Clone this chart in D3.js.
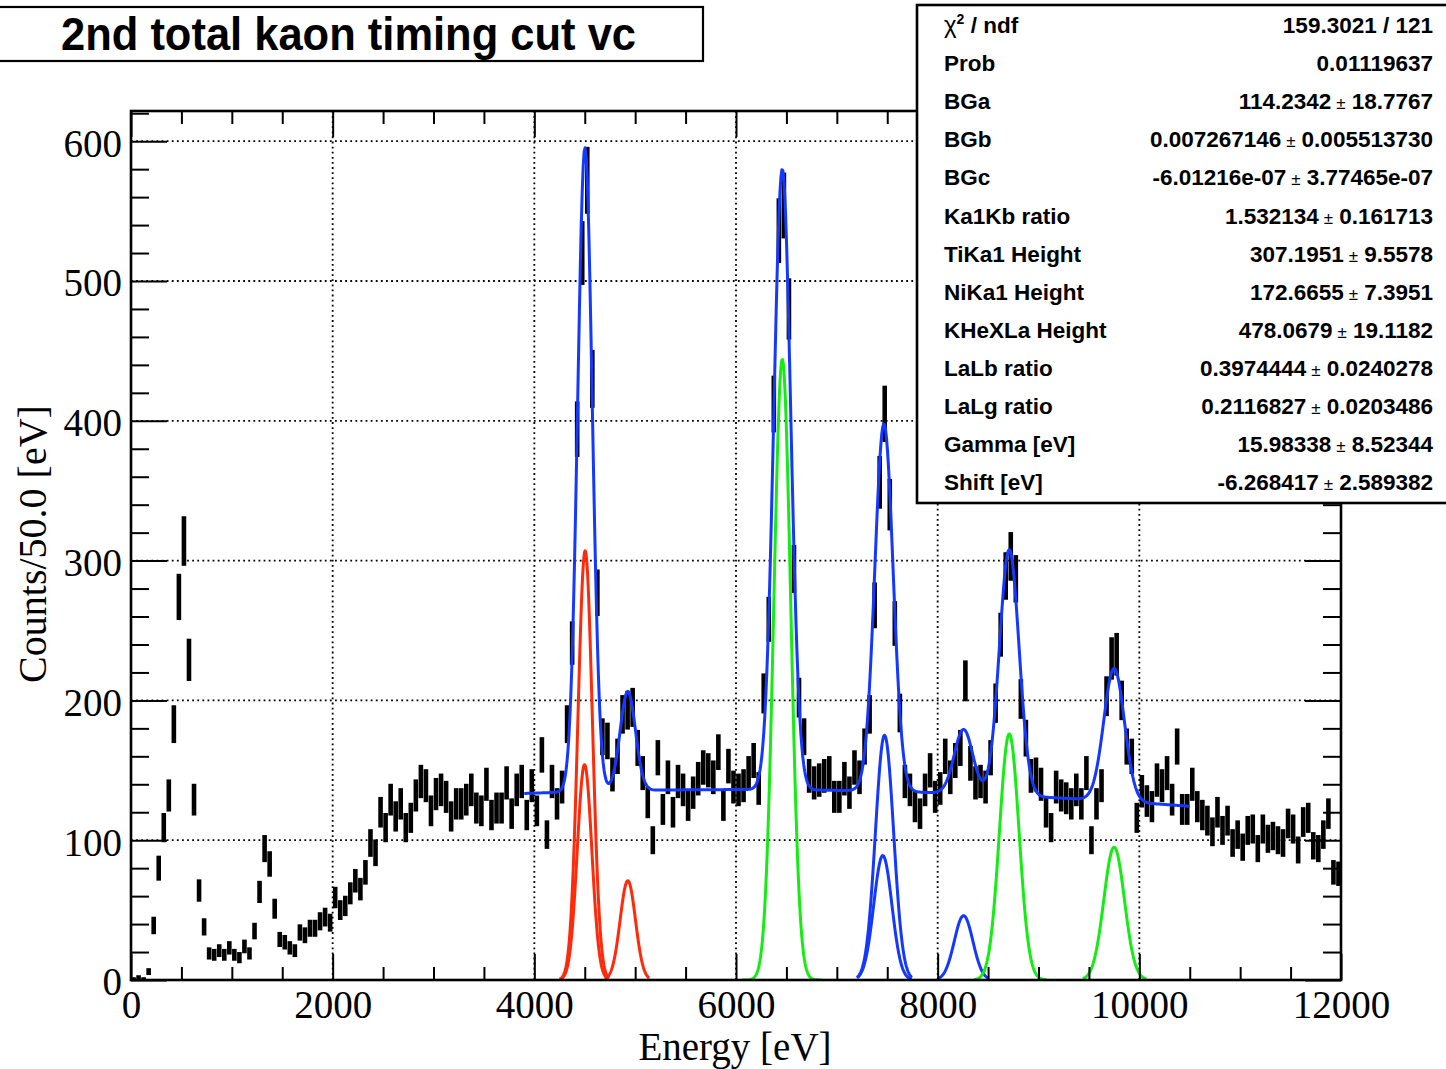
<!DOCTYPE html>
<html><head><meta charset="utf-8">
<script src="https://cdn.jsdelivr.net/npm/d3@7"></script>
<style>body{margin:0;background:#fff}svg{display:block}</style>
</head><body>
<svg id="c" width="1446" height="1069"></svg>
<script>
// ---------------- DATA ----------------
const binWidth = 50;           // eV per bin
const xDomain = [0, 12000];
const yDomain = [0, 621.6];
// histogram counts per 50 eV bin (0 .. 12000 eV)
const counts = [
  1, 2, 1, 6, 39, 80, 109, 132, 183, 274,
  314, 229, 129, 64, 38, 19, 18, 21, 18, 23,
  18, 16, 24, 19, 35, 63, 94, 83, 51, 29,
  27, 23, 21, 34, 32, 37, 37, 42, 45, 41,
  59, 50, 53, 62, 71, 65, 77, 98, 91, 120,
  109, 129, 117, 126, 109, 116, 132, 142, 139, 121,
  133, 136, 131, 117, 126, 126, 129, 136, 123, 121,
  140, 118, 123, 123, 141, 119, 136, 142, 118, 139,
  121, 161, 104, 142, 126, 138, 183, 241, 394, 520,
  572, 430, 277, 174, 171, 147, 160, 190, 193, 195,
  166, 148, 127, 100, 159, 122, 145, 120, 142, 136,
  125, 134, 144, 152, 150, 145, 163, 125, 153, 138,
  136, 139, 148, 157, 137, 205, 258, 412, 536, 554,
  480, 294, 202, 174, 146, 141, 143, 146, 148, 131,
  131, 144, 134, 152, 145, 167, 190, 268, 356, 405,
  340, 255, 191, 142, 136, 124, 119, 136, 150, 131,
  137, 160, 145, 157, 166, 214, 155, 141, 142, 138,
  159, 198, 247, 289, 303, 287, 201, 173, 146, 147,
  140, 120, 109, 138, 132, 130, 126, 136, 126, 148,
  100, 126, 139, 203, 230, 233, 200, 167, 160, 116,
  135, 128, 124, 143, 139, 148, 129, 167, 122, 122,
  140, 124, 118, 114, 106, 120, 107, 114, 98, 104,
  95, 107, 108, 94, 108, 101, 103, 100, 98, 112,
  108, 93, 113, 116, 96, 94, 104, 119, 77, 76
];
// fit: quadratic background (from the stats box) + gaussian lines
const bgCoeffs = [114.2342, 0.007267146, -6.01216e-07];
const fitRange = [3900, 10500];
const peakNames   = ["TiKa1", "TiKa2", "TiKb", "KHeXLa", "NiKa1", "NiKa2", "NiKb", "KHeXLb", "KHeXLg"];
const peakCenters = [4504, 4498, 4927, 6459, 7473, 7456, 8257, 8710, 9750];
const peakHeights = [307, 154, 71, 444, 175, 89, 46, 176, 95];
const peakSigmas  = [72, 72, 76, 84, 90, 90, 92, 97, 102];
const peakStart   = [4250, 4250, 4700, 6060, 7200, 7200, 8000, 8360, 9440];
const peakEnd     = [4740, 4740, 5140, 6850, 7745, 7745, 8500, 9080, 10070];
const peakColors  = ["red", "red", "red", "green", "blue", "blue", "blue", "green", "green"];

const xMajorTicks = [0, 2000, 4000, 6000, 8000, 10000, 12000];
const xTickLabels = ["0", "2000", "4000", "6000", "8000", "10000", "12000"];
const yMajorTicks = [0, 100, 200, 300, 400, 500, 600];
const yTickLabels = ["0", "100", "200", "300", "400", "500", "600"];
const xMinorStep = 500, yMinorStep = 20;

const titleText = "2nd total kaon timing cut vc";
const xTitle = "Energy [eV]";
const yTitle = "Counts/50.0 [eV]";

const statLabels = ["χ2 / ndf", "Prob", "BGa", "BGb", "BGc", "Ka1Kb ratio", "TiKa1 Height",
  "NiKa1 Height", "KHeXLa Height", "LaLb ratio", "LaLg ratio", "Gamma [eV]", "Shift [eV]"];
const statValues = ["159.3021 / 121", "0.01119637", "114.2342", "0.007267146", "-6.01216e-07",
  "1.532134", "307.1951", "172.6655", "478.0679", "0.3974444", "0.2116827", "15.98338", "-6.268417"];
const statErrors = ["", "", "18.7767", "0.005513730", "3.77465e-07", "0.161713", "9.5578",
  "7.3951", "19.1182", "0.0240278", "0.0203486", "8.52344", "2.589382"];

// ---------------- DRAW ----------------
const colorMap = {red: "#ff2a0a", green: "#14ec14", blue: "#1438ff"};
const F = {l: 131, r: 1341, t: 111, b: 980};
const x = d3.scaleLinear().domain(xDomain).range([F.l, F.r]);
const y = d3.scaleLinear().domain(yDomain).range([F.b, F.t]);
const svg = d3.select("#c");
svg.append("rect").attr("width", 1446).attr("height", 1069).attr("fill", "#fff");
svg.append("defs").append("clipPath").attr("id", "clip")
  .append("rect").attr("x", F.l).attr("y", F.t).attr("width", F.r - F.l).attr("height", F.b - F.t);

// grid
const grid = svg.append("g").attr("stroke", "#000").attr("stroke-width", 1.8)
  .attr("stroke-dasharray", "1.8,3.3");
xMajorTicks.filter(v => v > xDomain[0] && v < xDomain[1]).forEach(v =>
  grid.append("line").attr("x1", x(v)).attr("x2", x(v)).attr("y1", F.t).attr("y2", F.b));
yMajorTicks.filter(v => v > 0).forEach(v =>
  grid.append("line").attr("x1", F.l).attr("x2", F.r).attr("y1", y(v)).attr("y2", y(v)));

// histogram error bars
const plot = svg.append("g").attr("clip-path", "url(#clip)");
const bins = counts.map((c, i) => ({e: (i + 0.5) * binWidth, c}));
plot.append("g").selectAll("line").data(bins).join("line")
  .attr("x1", d => x(d.e)).attr("x2", d => x(d.e))
  .attr("y1", d => y(Math.max(0, d.c - Math.sqrt(d.c))))
  .attr("y2", d => y(d.c + Math.sqrt(d.c)))
  .attr("stroke", "#000").attr("stroke-width", 4.6);

// fit functions
const gauss = (e, k) => peakHeights[k] * Math.exp(-0.5 * Math.pow((e - peakCenters[k]) / peakSigmas[k], 2));
const bg = e => bgCoeffs[0] + bgCoeffs[1] * e + bgCoeffs[2] * e * e;
const total = e => bg(e) + peakCenters.reduce((s, _, k) => s + gauss(e, k), 0);
const line = d3.line().x(d => x(d[0])).y(d => y(d[1]));
const sample = (a, b, n, f) => d3.range(n + 1).map(i => { const e = a + (b - a) * i / n; return [e, f(e)]; });

peakCenters.forEach((_, k) => {
  plot.append("path").attr("d", line(sample(peakStart[k], peakEnd[k], 120, e => gauss(e, k))))
    .attr("fill", "none").attr("stroke", colorMap[peakColors[k]]).attr("stroke-width", 3)
    .attr("stroke-linejoin", "round");
});
plot.append("path").attr("d", line(sample(fitRange[0], fitRange[1], 700, total)))
  .attr("fill", "none").attr("stroke", colorMap.blue).attr("stroke-width", 3)
  .attr("stroke-linejoin", "round");

// axes (ticks inward on all four sides)
const minorX = d3.range(xDomain[0], xDomain[1] + 1, xMinorStep).filter(v => !xMajorTicks.includes(v));
const minorY = d3.range(0, yDomain[1], yMinorStep).filter(v => !yMajorTicks.includes(v));
const tickFont = "Liberation Serif, Times New Roman, serif";
function styleAxis(g) {
  g.select(".domain").remove();
  g.selectAll(".tick line").attr("stroke", "#000").attr("stroke-width", 2);
  g.selectAll("text").attr("font-family", tickFont).attr("font-size", 39).attr("fill", "#000");
}
svg.append("g").attr("transform", `translate(${F.l},0)`)
  .call(d3.axisLeft(y).tickValues(yMajorTicks).tickFormat((d, i) => yTickLabels[i]).tickSize(-36).tickPadding(9))
  .call(styleAxis).call(g => g.selectAll("text").attr("dy", "0.38em"));
svg.append("g").attr("transform", `translate(${F.l},0)`)
  .call(d3.axisLeft(y).tickValues(minorY).tickFormat("").tickSize(-18)).call(styleAxis);
svg.append("g").attr("transform", `translate(${F.r},0)`)
  .call(d3.axisRight(y).tickValues(yMajorTicks).tickFormat("").tickSize(-36)).call(styleAxis);
svg.append("g").attr("transform", `translate(${F.r},0)`)
  .call(d3.axisRight(y).tickValues(minorY).tickFormat("").tickSize(-18)).call(styleAxis);
svg.append("g").attr("transform", `translate(0,${F.b})`)
  .call(d3.axisBottom(x).tickValues(xMajorTicks).tickFormat((d, i) => xTickLabels[i]).tickSize(-26).tickPadding(10))
  .call(styleAxis);
svg.append("g").attr("transform", `translate(0,${F.b})`)
  .call(d3.axisBottom(x).tickValues(minorX).tickFormat("").tickSize(-13)).call(styleAxis);
svg.append("g").attr("transform", `translate(0,${F.t})`)
  .call(d3.axisTop(x).tickValues(xMajorTicks).tickFormat("").tickSize(-26)).call(styleAxis);
svg.append("g").attr("transform", `translate(0,${F.t})`)
  .call(d3.axisTop(x).tickValues(minorX).tickFormat("").tickSize(-13)).call(styleAxis);

// frame
svg.append("rect").attr("x", F.l).attr("y", F.t).attr("width", F.r - F.l).attr("height", F.b - F.t)
  .attr("fill", "none").attr("stroke", "#000").attr("stroke-width", 2.6);

// axis titles
svg.append("text").attr("x", 735).attr("y", 1060).attr("text-anchor", "middle")
  .attr("font-family", tickFont).attr("font-size", 39).text(xTitle);
svg.append("text").attr("transform", "translate(46,544) rotate(-90)").attr("text-anchor", "middle")
  .attr("font-family", tickFont).attr("font-size", 40).text(yTitle);

// title box
const sans = "Liberation Sans, Arial, Helvetica, sans-serif";
svg.append("rect").attr("x", -4).attr("y", 7).attr("width", 707).attr("height", 54)
  .attr("fill", "#fff").attr("stroke", "#000").attr("stroke-width", 2.2);
svg.append("text").attr("x", 61).attr("y", 50).attr("font-family", sans).attr("font-weight", "bold")
  .attr("font-size", 46).attr("textLength", 575).attr("lengthAdjust", "spacingAndGlyphs").text(titleText);

// stats box
svg.append("rect").attr("x", 917).attr("y", 5).attr("width", 560).attr("height", 498)
  .attr("fill", "#fff").attr("stroke", "#000").attr("stroke-width", 2.6);
const st = svg.append("g").attr("font-family", sans).attr("font-weight", "bold").attr("font-size", 22.5).attr("fill", "#000");
statLabels.forEach((lab, i) => {
  const yy = 33 + i * 38.1;
  const t = st.append("text").attr("x", 944).attr("y", yy);
  if (lab.startsWith("χ2")) {
    t.append("tspan").attr("font-weight", "normal").attr("font-size", 24).text("χ");
    t.append("tspan").attr("font-size", 14).attr("dy", -9).text("2");
    t.append("tspan").attr("dy", 9).text(" / ndf");
  } else t.text(lab);
  const v = st.append("text").attr("x", 1433).attr("y", yy).attr("text-anchor", "end");
  v.append("tspan").text(statValues[i]);
  if (statErrors[i]) {
    v.append("tspan").attr("font-weight", "normal").attr("font-size", 17).attr("dx", 5).text("±");
    v.append("tspan").attr("dx", 6).text(statErrors[i]);
  }
});
</script>
</body></html>
